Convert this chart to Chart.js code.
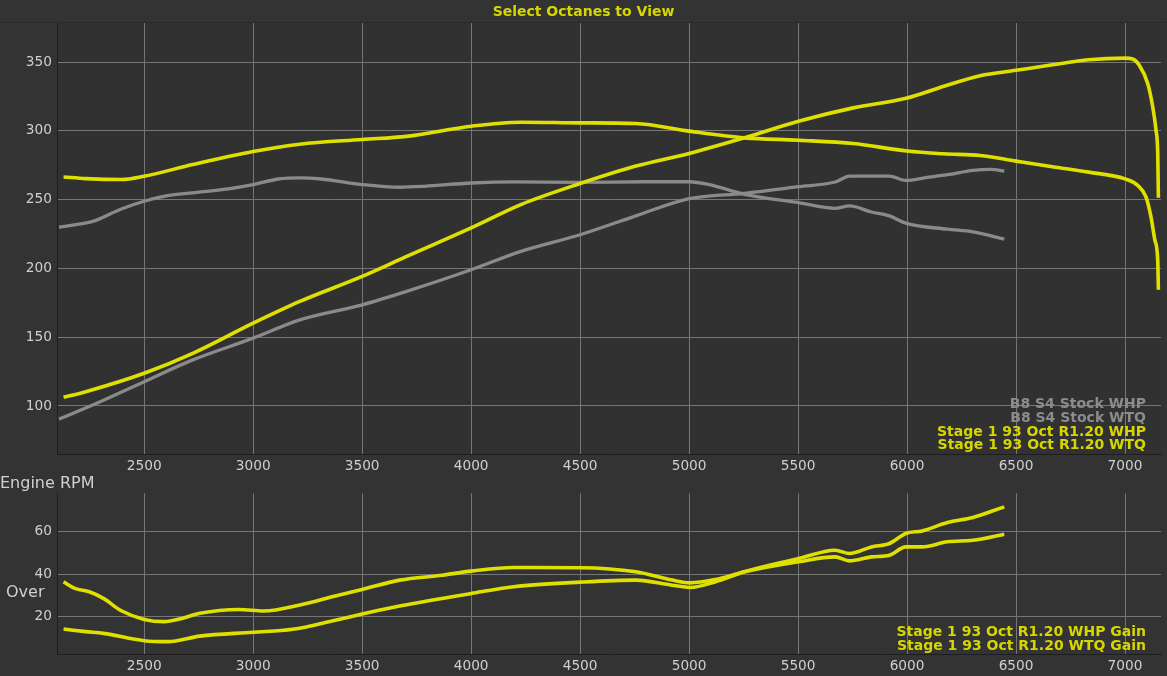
<!DOCTYPE html>
<html><head><meta charset="utf-8">
<script src="https://cdn.jsdelivr.net/npm/chart.js@4"></script>
<style>
html,body{margin:0;padding:0;background:#333333;width:1167px;height:676px;overflow:hidden;font-family:"DejaVu Sans",Verdana,sans-serif}
#title{position:absolute;left:0;top:0;width:1167px;height:22px;line-height:22px;text-align:center;font-weight:bold;font-size:14px;color:#d6d600}
.lbl{position:absolute;color:#d0d0d0;font-size:16px;line-height:18px;white-space:nowrap}
#c1wrap{position:absolute;left:0;top:0;width:1167px;height:480px}
#c2wrap{position:absolute;left:0;top:480px;width:1167px;height:196px}
</style></head>
<body>
<div id="c1wrap"><canvas id="c1" width="1167" height="480"></canvas></div>
<div id="c2wrap"><canvas id="c2" width="1167" height="196"></canvas></div>
<div id="title">Select Octanes to View</div>
<div class="lbl" style="left:0;top:474px">Engine RPM</div>
<div class="lbl" style="left:6px;top:583px">Over</div>
<script>
// ---- data ----
const xTicks = [2500,3000,3500,4000,4500,5000,5500,6000,6500,7000];
const powerTicks = [100,150,200,250,300,350];
const gainTicks = [20,40,60];

const seriesNames = ["B8 S4 Stock WHP","B8 S4 Stock WTQ","Stage 1 93 Oct R1.20 WHP","Stage 1 93 Oct R1.20 WTQ"];
const gainNames = ["Stage 1 93 Oct R1.20 WHP Gain","Stage 1 93 Oct R1.20 WTQ Gain"];

const stockWhpRpm = [2109,2264,2500,2723,3000,3214,3500,3704,4000,4228,4500,4756,5000,5254,5502,5670,5736,5919,5994,6086,6185,6302,6385,6446];
const stockWhp    = [90.5,100.7,117.7,133.5,149.3,162.6,173.5,183.3,199,212.4,224.5,238.2,250.7,254.6,259.4,262.8,267.1,267.1,264,266,268.1,271.3,272,270.8];

const stockWtqRpm = [2109,2166,2264,2395,2500,2608,2723,2886,3000,3115,3214,3312,3500,3672,3786,4000,4196,4500,4800,5000,5088,5254,5502,5670,5736,5836,5919,5994,6185,6302,6446];
const stockWtq    = [229.9,231.3,234.2,243.2,248.8,252.9,254.9,257.8,260.9,265,265.8,265,260.9,259,259.7,262.1,262.9,262.6,263,263,261.1,253.9,247.8,243.7,245.4,241,238.2,232.9,228.5,226.6,221.3];

const s1WhpRpm = [2130,2232,2500,2723,3000,3214,3500,3704,4000,4228,4500,4756,5000,5254,5502,5753,6000,6169,6335,6500,6667,6833,7000,7035,7066,7104,7127,7142,7150,7153];
const s1Whp    = [106.3,110.4,123.8,138.3,160.2,176,194.2,208.7,229.4,246.4,261.7,274.4,283.6,295,307,316.7,323.9,332.4,340.1,344,348,351.7,352.9,352.2,347.6,334.5,317.5,300.5,283.6,251.4];

const s1WtqRpm = [2130,2232,2395,2500,2723,3000,3214,3500,3704,4000,4228,4500,4756,5000,5254,5502,5753,6000,6169,6335,6500,6667,6833,7000,7058,7096,7119,7137,7150,7153];
const s1Wtq    = [266.5,265.3,264.6,267,275.5,285,290.3,293.7,296,303.4,306.3,305.8,305.3,299.8,294.9,293.2,290.8,285.3,283.3,282.1,278,273.9,270,265.1,260.4,252,237.5,220.5,206,184.5];

const whpGainRpm = [2130,2232,2313,2500,2608,2755,3000,3181,3377,3500,3672,4000,4196,4500,4756,4922,5005,5121,5254,5502,5670,5736,5836,5919,5994,6069,6185,6302,6446];
const whpGain    = [14.2,13,12.2,8.75,8.3,10.9,12.7,14.1,18.4,21.25,25,30.9,34.1,36.25,37.2,34.8,33.75,36.4,41.1,47.3,51.25,49.7,52.8,54.4,59.1,60.3,64.2,66.6,71.6];

const wtqGainRpm = [2130,2182,2248,2313,2395,2500,2592,2673,2755,2935,3050,3214,3377,3500,3672,3868,4000,4196,4500,4756,4922,5005,5121,5254,5502,5670,5736,5836,5919,5994,6069,6185,6302,6446];
const wtqGain    = [36.4,33.3,31.7,28.6,22.8,18.75,17.7,19.2,21.6,23.4,22.7,25.5,29.7,32.8,37.2,39.5,41.4,43.1,43,41.1,37.2,35.9,37.5,41.1,45.8,48.1,46.25,48.1,48.9,52.8,52.8,55.2,55.9,58.75];

// ---- styles ----
const YEL = '#e0e000', GRY = '#8a8a8a';
const YEL_TXT = '#d6d600', GRY_TXT = '#8c8c8c';
const FONT = '"DejaVu Sans", Verdana, sans-serif';

const pts = (xs, ys) => xs.map((x, i) => ({x: x, y: ys[i]}));
const line = (label, xs, ys, color, w) => ({
  label: label, data: pts(xs, ys), borderColor: color, backgroundColor: color,
  borderWidth: w, pointRadius: 0, fill: false, cubicInterpolationMode: 'monotone',
  borderCapStyle: 'butt', borderJoinStyle: 'round'
});

function xScale(h) {
  return {
    type: 'linear', min: 2100, max: 7165,
    afterBuildTicks: s => { s.ticks = xTicks.map(v => ({value: v})); },
    afterFit: s => { s.height = h; },
    grid: {color: '#767676', lineWidth: 1, drawTicks: false},
    border: {display: true, color: '#1e1e1e', width: 1},
    ticks: {color: '#cfcfcf', font: {family: FONT, size: 13.7}, padding: 4, maxRotation: 0, autoSkip: false, callback: v => String(v)}
  };
}
function yScale(min, max, tickVals) {
  return {
    type: 'linear', min: min, max: max,
    afterBuildTicks: s => { s.ticks = tickVals.map(v => ({value: v})); },
    afterFit: s => { s.width = 57; },
    grid: {color: '#767676', lineWidth: 1, drawTicks: false},
    border: {display: true, color: '#1e1e1e', width: 1},
    ticks: {color: '#cfcfcf', font: {family: FONT, size: 13.7}, padding: 5, autoSkip: false, callback: v => String(v)}
  };
}
function legendPlugin(entries, x, y0, dy) {
  return {
    id: 'txtLegend',
    afterDatasetsDraw(chart) {
      const ctx = chart.ctx;
      ctx.save();
      ctx.font = 'bold 14px ' + FONT;
      ctx.textAlign = 'right';
      ctx.textBaseline = 'middle';
      entries.forEach((e, i) => { ctx.fillStyle = e.color; ctx.fillText(e.text, x, y0 + i * dy); });
      ctx.restore();
    }
  };
}
const topBorder = {
  id: 'topBorder',
  beforeDraw(chart) {
    const a = chart.chartArea, ctx = chart.ctx;
    ctx.save(); ctx.fillStyle = '#313131';
    ctx.fillRect(a.left, a.top, a.right - a.left, a.bottom - a.top);
    ctx.strokeStyle = '#2a2a2a'; ctx.lineWidth = 1;
    ctx.beginPath(); ctx.moveTo(0, a.top - 0.5); ctx.lineTo(chart.width, a.top - 0.5); ctx.stroke();
    ctx.restore();
  }
};

const common = {
  responsive: false, animation: false, devicePixelRatio: 1,
  plugins: {legend: {display: false}, tooltip: {enabled: false}, title: {display: false}}
};

new Chart(document.getElementById('c1'), {
  type: 'line',
  data: {datasets: [
    line(seriesNames[2], s1WhpRpm, s1Whp, YEL, 3.6),
    line(seriesNames[3], s1WtqRpm, s1Wtq, YEL, 3.6),
    line(seriesNames[0], stockWhpRpm, stockWhp, GRY, 3.3),
    line(seriesNames[1], stockWtqRpm, stockWtq, GRY, 3.3)
  ]},
  options: Object.assign({}, common, {
    layout: {padding: {top: 23, right: 6, left: 0, bottom: 0}},
    scales: {x: xScale(26), y: yScale(65.1, 378.4, powerTicks)}
  }),
  plugins: [topBorder, legendPlugin([
    {text: seriesNames[0], color: GRY_TXT}, {text: seriesNames[1], color: GRY_TXT},
    {text: seriesNames[2], color: YEL_TXT}, {text: seriesNames[3], color: YEL_TXT}
  ], 1146, 404.5, 13.7)]
});

new Chart(document.getElementById('c2'), {
  type: 'line',
  data: {datasets: [
    line(gainNames[0], whpGainRpm, whpGain, YEL, 3.6),
    line(gainNames[1], wtqGainRpm, wtqGain, YEL, 3.6)
  ]},
  options: Object.assign({}, common, {
    layout: {padding: {top: 13, right: 6, left: 0, bottom: 0}},
    scales: {x: xScale(22), y: yScale(2.5, 78, gainTicks)}
  }),
  plugins: [legendPlugin([
    {text: gainNames[0], color: YEL_TXT}, {text: gainNames[1], color: YEL_TXT}
  ], 1146, 152, 14)]
});
</script>
</body></html>
